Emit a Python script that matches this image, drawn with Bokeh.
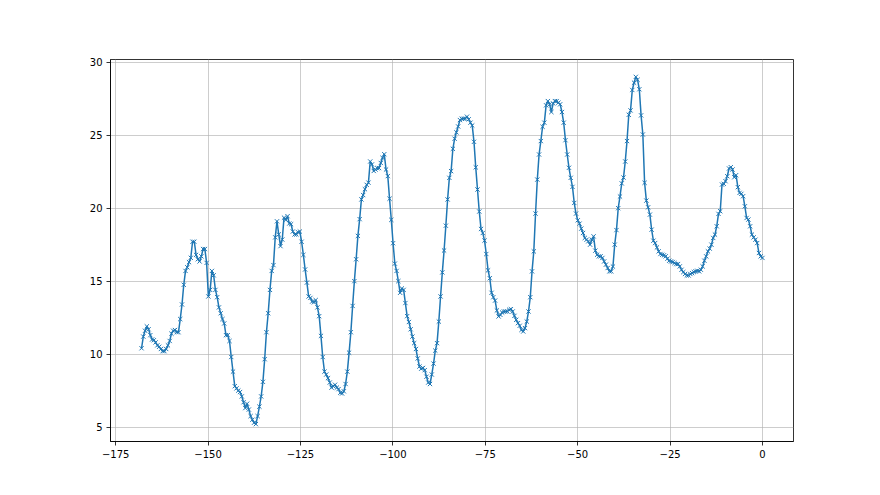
import numpy as np
from bokeh.plotting import figure
from bokeh.models import Range1d, FixedTicker
from bokeh.embed import file_html
from bokeh.resources import INLINE

# series values, in order from x=-168 to x=0
seg_a = [10.4, 11.2, 11.6, 11.9, 11.7, 11.3, 11.0, 10.95, 10.8, 10.6, 10.5, 10.35, 10.2, 10.2,
         10.35, 10.6, 10.9, 11.4, 11.6, 11.65, 11.5, 11.5, 12.4, 13.4, 14.75, 15.7, 15.95, 16.3,
         16.6, 17.7, 17.7, 16.8, 16.5, 16.35, 16.7, 17.2, 17.2, 16.25]
seg_b = [13.95, 14.4, 15.7, 15.4, 14.4, 13.9, 13.2, 12.8, 12.4, 12.1, 11.3, 11.3, 10.9, 9.8,
         8.8, 7.8, 7.65, 7.5, 7.4, 7.1, 6.7, 6.3, 6.6, 6.2, 5.75, 5.5, 5.3, 5.2, 5.75, 6.4, 7.1,
         8.1, 9.65, 11.5, 12.8, 14.4, 15.7, 16.1, 18.0, 19.1, 18.2, 17.4, 17.85, 19.35]
seg_c = [19.2, 19.45, 18.95, 18.9, 18.4, 18.2, 18.2, 18.35, 18.4, 17.7, 16.8, 15.8, 14.9, 13.95,
         13.85, 13.6, 13.55, 13.7, 13.2, 12.6, 11.25, 9.8, 8.8, 8.6, 8.35, 8.05, 7.7, 7.8, 7.9,
         7.7, 7.6, 7.35, 7.3, 7.45, 7.95, 8.8, 10.1, 11.5, 13.3, 15.0, 16.5, 18.1]
seg_d = [19.25, 20.6, 20.9, 21.3, 21.6, 21.75, 23.2, 23.0, 22.55, 22.65, 22.75, 22.75, 23.1,
         23.45, 23.7, 22.65, 22.2, 20.65, 19.2, 17.6, 16.2, 15.7, 15.0, 14.2, 14.5, 14.4, 13.5,
         12.6, 12.2, 11.7, 11.2, 10.75, 10.35, 9.7, 9.15, 9.0, 9.05, 8.9, 8.45, 8.05, 7.95]
seg_e = [8.6, 9.35, 10.24, 10.75, 12.23, 13.95, 15.6, 17.1, 18.8, 20.6, 22.08, 22.54, 24.07,
         24.76, 25.2, 25.6, 26.04, 26.13, 26.13, 26.13, 26.27, 26.09, 25.86, 25.67, 24.55, 22.8,
         21.28, 19.77, 18.58, 18.3, 17.78, 16.86, 15.74, 15.2, 14.2, 13.9, 13.67, 12.99, 12.58,
         12.69, 12.85, 12.92, 12.92]
seg_f = [12.92, 13.04, 13.08, 12.92, 12.62, 12.35, 12.12, 11.94, 11.66, 11.55, 11.78, 12.23,
         12.92, 13.9, 15.67, 17.04, 19.63, 21.96, 23.68, 24.6, 25.58, 25.86, 27.05, 27.34, 27.12,
         26.59, 27.18, 27.34, 27.34, 27.23, 27.12, 26.59, 25.86, 24.66, 23.68, 22.77, 22.08,
         21.46, 20.36, 19.63]
seg_g = [19.17, 18.94, 18.6, 18.3, 17.96, 17.84, 17.73, 17.5, 17.84, 18.07, 17.09, 16.81, 16.7,
         16.7, 16.59, 16.35, 16.13, 15.9, 15.67, 15.67, 16.0, 17.5, 18.5, 20.0, 20.8, 21.7, 22.1,
         23.2, 24.6, 26.4, 26.7, 28.1, 28.6, 29.0, 28.8, 28.15, 26.36, 25.05, 21.74, 20.52,
         20.06, 19.56, 18.53, 17.77, 17.61, 17.31, 17.04]
seg_h = [16.86, 16.81, 16.77, 16.7, 16.54, 16.4, 16.35, 16.31, 16.24, 16.17, 16.17, 16.01, 15.78,
         15.62, 15.49, 15.39, 15.39, 15.49, 15.55, 15.62, 15.67, 15.71, 15.67, 15.78, 16.01,
         16.4, 16.7, 17.04, 17.23, 17.5, 17.96, 18.19, 18.76, 19.61, 19.79, 21.62, 21.67, 21.85,
         22.19, 22.72, 22.81, 22.65, 22.12, 22.26, 21.44, 21.05, 20.98, 20.82, 20.13, 19.33,
         19.22, 18.76, 18.19, 18.0, 17.84, 17.61, 16.93, 16.7, 16.59]

values = seg_a + seg_b + seg_c + seg_d + seg_e + seg_f + seg_g + seg_h
x_start = -168.0
x_end = 0.0
xs = np.linspace(x_start, x_end, len(values))

x_ticks = [-175, -150, -125, -100, -75, -50, -25, 0]
y_ticks = [5, 10, 15, 20, 25, 30]

BLUE = "#1f77b4"

# 5% margins like matplotlib autoscale
xm = (x_end - x_start) * 0.05
ymin, ymax = min(values), max(values)
ym = (ymax - ymin) * 0.05

p = figure(width=864, height=476, output_backend="svg", toolbar_location=None,
           x_range=Range1d(x_start - xm, x_end + xm),
           y_range=Range1d(ymin - ym, ymax + ym),
           min_border_left=110, min_border_right=71, min_border_top=59,
           min_border_bottom=35)

p.line(xs, values, line_color=BLUE, line_width=1.5)
p.scatter(xs, values, marker="x", size=6, line_color=BLUE, line_width=1)

def minus(v):
    return str(v).replace("-", "\u2212")

for ax, ticks in ((p.xaxis, x_ticks), (p.yaxis, y_ticks)):
    ax.ticker = FixedTicker(ticks=ticks)
    ax.major_label_overrides = {t: minus(t) for t in ticks}
    ax.minor_tick_line_color = None
    ax.major_tick_out = 4
    ax.major_tick_in = 0
    ax.major_tick_line_color = "black"
    ax.major_tick_line_width = 0.8
    ax.axis_line_color = "black"
    ax.axis_line_width = 0.8
    ax.major_label_text_font = "DejaVu Sans"
    ax.major_label_text_font_size = "10px"
    ax.major_label_text_color = "black"
    ax.major_label_standoff = 4

p.xgrid.ticker = FixedTicker(ticks=x_ticks)
p.ygrid.ticker = FixedTicker(ticks=y_ticks)
for g in (p.xgrid, p.ygrid):
    g.grid_line_color = "#b0b0b0"
    g.grid_line_width = 0.8
    g.grid_line_alpha = 0.8

p.outline_line_color = "black"
p.outline_line_width = 0.8
p.outline_line_alpha = 1.0
p.background_fill_color = "white"
p.border_fill_color = "white"

open("out.html", "w").write(file_html(p, INLINE))
